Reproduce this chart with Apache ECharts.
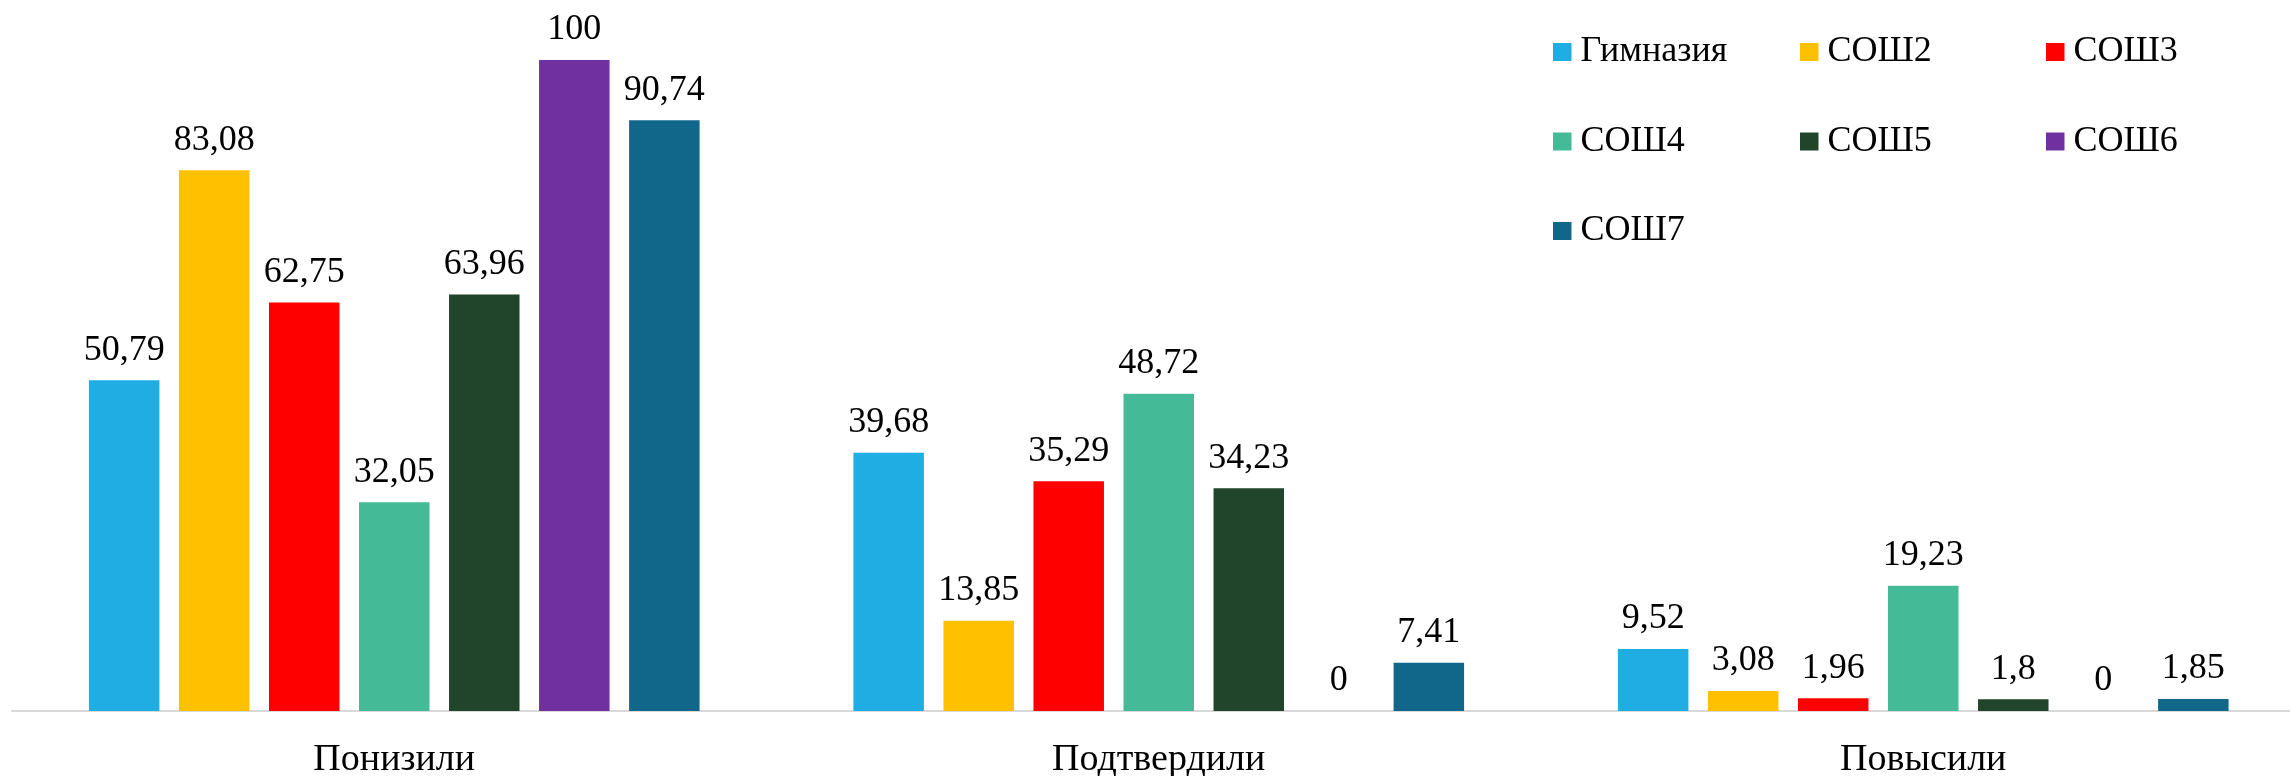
<!DOCTYPE html>
<html>
<head>
<meta charset="utf-8">
<script src="https://cdn.jsdelivr.net/npm/echarts@6/dist/echarts.min.js"></script>
<style>
  html, body { margin: 0; padding: 0; background: #fff; }
  #chart { width: 2290px; height: 776px; }
</style>
</head>
<body>
<div id="chart"></div>
<script>
const categories = ['Понизили', 'Подтвердили', 'Повысили']
const schools = ['Гимназия', 'СОШ2', 'СОШ3', 'СОШ4', 'СОШ5', 'СОШ6', 'СОШ7']

const gymnasium = [50.79, 39.68, 9.52]
const school2 = [83.08, 13.85, 3.08]
const school3 = [62.75, 35.29, 1.96]
const school4 = [32.05, 48.72, 19.23]
const school5 = [63.96, 34.23, 1.8]
const school6 = [100, 0, 0]
const school7 = [90.74, 7.41, 1.85]

const colors = ['#1FADE4', '#FFC000', '#FF0000', '#44BA97', '#21452B', '#7030A0', '#10678A']
const values = [gymnasium, school2, school3, school4, school5, school6, school7]

const font = '"Liberation Serif", "Times New Roman", serif'

const chart = echarts.init(document.getElementById('chart'))

// legend columns, each placed separately so the columns line up
function legendColumn(names, left) {
  return {
    orient: 'vertical',
    left: left,
    top: 34,
    padding: 0,
    itemWidth: 18.5,
    itemHeight: 18,
    itemGap: 53.5,
    icon: 'rect',
    data: names,
    textStyle: {
      fontFamily: font,
      fontSize: 36,
      lineHeight: 36,
      color: '#000',
      padding: [0, 0, 0, 4]
    }
  }
}

chart.setOption({
  animation: false,
  color: colors,
  legend: [
    legendColumn(['Гимназия', 'СОШ4', 'СОШ7'], 1553),
    legendColumn(['СОШ2', 'СОШ5'], 1800),
    legendColumn(['СОШ3', 'СОШ6'], 2046)
  ],
  grid: {
    left: 12,
    top: 60,
    width: 2293.5,
    height: 651,
    outerBoundsMode: 'none'
  },
  xAxis: {
    type: 'category',
    data: categories,
    axisTick: { show: false },
    axisLine: { lineStyle: { color: '#D9D9D9', width: 2 } },
    axisLabel: {
      fontFamily: font,
      fontSize: 38,
      color: '#000',
      margin: 30
    }
  },
  yAxis: {
    type: 'value',
    min: 0,
    max: 100,
    show: false,
    splitLine: { show: false }
  },
  series: schools.map((name, i) => ({
    name: name,
    type: 'bar',
    data: values[i],
    barWidth: 70.5,
    barGap: '27.7%',
    itemStyle: { color: colors[i] },
    label: {
      show: true,
      position: 'top',
      distance: 12,
      fontFamily: font,
      fontSize: 36,
      color: '#000',
      formatter: p => String(p.value).replace('.', ',')
    }
  }))
})
</script>
</body>
</html>
